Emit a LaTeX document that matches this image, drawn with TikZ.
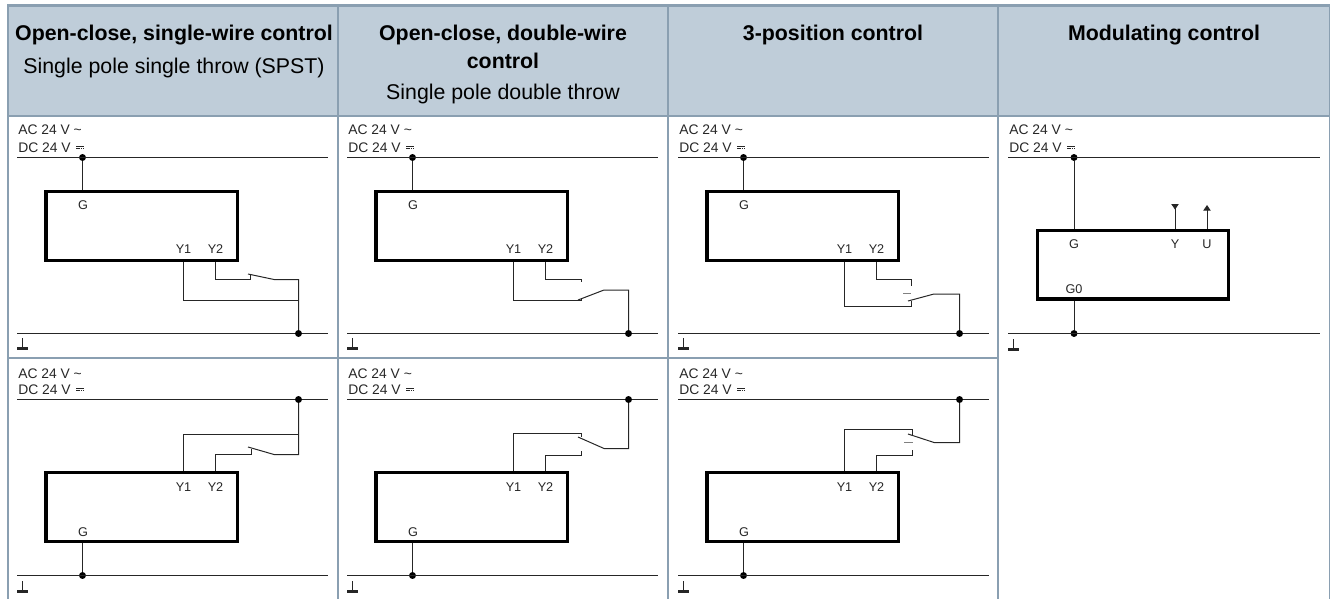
\documentclass[tikz,border=0pt]{standalone}
\usepackage{fontspec}
\setmainfont{Liberation Sans}
\usetikzlibrary{arrows.meta}

\definecolor{headfill}{HTML}{BFCDD9}
\definecolor{gridline}{HTML}{8A9FB1}
\definecolor{wirecol}{HTML}{262626}

\tikzset{
    wire/.style={line width=0.75pt,color=wirecol},
    junction/.style={circle,fill=black,inner sep=0pt,minimum size=5.2pt},
    ctrlbox/.style={draw=black,line width=2.6pt,inner sep=0pt,minimum width=143.5pt,minimum height=51.5pt},
    pin/.style={inner sep=0pt,anchor=base,font=\fontsize{9.5}{9.5}\selectfont,text=wirecol},
    volt/.style={inner sep=0pt,anchor=base west,font=\fontsize{10.4}{10.4}\selectfont,text=wirecol},
    headbold/.style={inner sep=0pt,anchor=base,font=\fontsize{16}{16}\selectfont\bfseries},
    headplain/.style={inner sep=0pt,anchor=base,font=\fontsize{16}{16}\selectfont},
    gridrule/.style={line width=1.5pt,color=gridline},
    pics/gnd/.style={code={
        \draw[line width=0.75pt,color=wirecol] (5.5,0) -- (5.5,10);
        \draw[line width=1.7pt,color=wirecol] (0,10.5) -- (11,10.5);
    }},
    pics/dcsym/.style={code={
        \draw[line width=0.5pt,color=wirecol] (0,0) -- (8,0);
        \draw[line width=0.5pt,color=wirecol,dash pattern=on 1.2pt off 0.6pt] (0,2) -- (8,2);
    }},
}

\begin{document}
\begin{tikzpicture}[x=0.75pt,y=-0.75pt]
    \useasboundingbox (0,0) rectangle (1330,599);

    % table
    \fill[headfill] (7,5) rectangle (1329,116);
    \draw[gridrule,line width=2.2pt] (7,5.5) -- (1330,5.5);
    \draw[gridrule] (7,116.5) -- (1330,116.5);
    \draw[gridrule] (7,358) -- (998,358);
    \draw[gridrule] (7.5,5) -- (7.5,599);
    \draw[gridrule] (338,5) -- (338,599);
    \draw[gridrule] (668,5) -- (668,599);
    \draw[gridrule] (998,5) -- (998,599);
    \draw[gridrule,line width=1pt] (1329.5,5) -- (1329.5,599);

    \node[headbold] (heada) at (174,40.5) {Open-close, single-wire control};
    \node[headplain] (suba) at (174,74) {Single pole single throw (SPST)};
    \node[headbold] (headb) at (503,40.5) {Open-close, double-wire};
    \node[headbold] (headb2) at (503,68.5) {control};
    \node[headplain] (subb) at (503,100) {Single pole double throw};
    \node[headbold] (headc) at (833,40.5) {3-position control};
    \node[headbold] (headd) at (1164,40.5) {Modulating control};

    % upper row: switch below the box
    \foreach \n/\dx in {a/0,b/330,c/661} {
        \begin{scope}[shift={(\dx,0)}]
            \node[volt] (ac\n) at (18,135) {AC 24 V \char`\~};
            \node[volt] (dc\n) at (18,152) {DC 24 V};
            \pic at (76,146) {dcsym};
            \coordinate (busl\n) at (17,157.5);
            \coordinate (busr\n) at (328,157.5);
            \coordinate (gndl\n) at (17,333.5);
            \coordinate (gndr\n) at (328,333.5);
            \node[junction] (dot\n) at (82.5,157.5) {};
            \node[ctrlbox] (box\n) at (141.7,226) {};
            \node[pin] (G\n) at (83,209) {G};
            \node[pin] (Yo\n) at (183.5,253) {Y1};
            \node[pin] (Yt\n) at (215.5,253) {Y2};
            \pic at (17,338) {gnd};
        \end{scope}
        \draw[wire] (busl\n) -- (busr\n);
        \draw[wire] (gndl\n) -- (gndr\n);
        \draw[wire] (dot\n) -- (box\n.north -| dot\n);
    }

    % lower row: switch above the box
    \foreach \n/\dx in {d/0,e/330,f/661} {
        \begin{scope}[shift={(\dx,0)}]
            \node[volt] (ac\n) at (18,378) {AC 24 V \char`\~};
            \node[volt] (dc\n) at (18,394) {DC 24 V};
            \pic at (76,388) {dcsym};
            \coordinate (busl\n) at (17,399.5);
            \coordinate (busr\n) at (328,399.5);
            \coordinate (gndl\n) at (17,575.5);
            \coordinate (gndr\n) at (328,575.5);
            \node[junction] (gdot\n) at (82.5,575.5) {};
            \node[ctrlbox] (box\n) at (141.7,507) {};
            \node[pin] (G\n) at (83,536) {G};
            \node[pin] (Yo\n) at (183.5,491) {Y1};
            \node[pin] (Yt\n) at (215.5,491) {Y2};
            \pic at (17,581) {gnd};
        \end{scope}
        \draw[wire] (busl\n) -- (busr\n);
        \draw[wire] (gndl\n) -- (gndr\n);
        \draw[wire] (gdot\n) -- (box\n.south -| gdot\n);
    }
    \node[junction] (dotd) at (298.5,399.5) {};
    \node[junction] (dote) at (628.5,399.5) {};
    \node[junction] (dotf) at (959.5,399.5) {};

    % upper switches
    \node[junction] (enda) at (298.5,333.5) {};
    \coordinate (a1) at (250.5,279.5);
    \coordinate (a2) at (250.5,275);
    \coordinate (a3) at (248,274);
    \coordinate (a4) at (274,279.5);
    \coordinate (a5) at (298.5,279.5);
    \coordinate (a6) at (298.5,300.5);
    \draw[wire] (Yta |- boxa.south) |- (a1) -- (a2);
    \draw[wire] (a3) -- (a4) -- (a5) -- (enda);
    \draw[wire] (Yoa |- boxa.south) |- (a6);

    \node[junction] (endb) at (628.5,333.5) {};
    \coordinate (b1) at (581.5,279.5);
    \coordinate (b2) at (581.5,282);
    \coordinate (b3) at (581.5,300.5);
    \coordinate (b4) at (581.5,298);
    \coordinate (b5) at (578,300);
    \coordinate (b6) at (604,290);
    \coordinate (b7) at (628.5,290);
    \draw[wire] (Ytb |- boxb.south) |- (b1) -- (b2);
    \draw[wire] (Yob |- boxb.south) |- (b3) -- (b4);
    \draw[wire] (b5) -- (b6) -- (b7) -- (endb);

    \node[junction] (endc) at (959.5,333.5) {};
    \coordinate (c1) at (911.5,279.5);
    \coordinate (c2) at (911.5,286);
    \coordinate (c3) at (911.5,306);
    \coordinate (c4) at (911.5,301);
    \coordinate (c5) at (908,301);
    \coordinate (c6) at (934,294);
    \coordinate (c7) at (959.5,294);
    \coordinate (c8) at (903,293);
    \coordinate (c9) at (911,293);
    \draw[wire] (Ytc |- boxc.south) |- (c1) -- (c2);
    \draw[wire] (Yoc |- boxc.south) |- (c3) -- (c4);
    \draw[wire] (c5) -- (c6) -- (c7) -- (endc);
    \draw[wire,color=gray] (c8) -- (c9);

    % lower switches
    \coordinate (d1) at (251.5,454.5);
    \coordinate (d2) at (251.5,448.5);
    \coordinate (d3) at (248,447);
    \coordinate (d4) at (274,454.5);
    \coordinate (d5) at (298.5,454.5);
    \coordinate (d6) at (298.5,434.5);
    \draw[wire] (Ytd |- boxd.north) |- (d1) -- (d2);
    \draw[wire] (d3) -- (d4) -- (d5) -- (dotd);
    \draw[wire] (Yod |- boxd.north) |- (d6);

    \coordinate (e1) at (581.5,433.5);
    \coordinate (e2) at (581.5,436.5);
    \coordinate (e3) at (581.5,455.5);
    \coordinate (e4) at (581.5,451);
    \coordinate (e5) at (578,437);
    \coordinate (e6) at (604,448.5);
    \coordinate (e7) at (628.5,448.5);
    \draw[wire] (Yoe |- boxe.north) |- (e1) -- (e2);
    \draw[wire] (Yte |- boxe.north) |- (e3) -- (e4);
    \draw[wire] (e5) -- (e6) -- (e7) -- (dote);

    \coordinate (f1) at (912.5,429.5);
    \coordinate (f2) at (912.5,435);
    \coordinate (f3) at (912.5,455.5);
    \coordinate (f4) at (912.5,450);
    \coordinate (f5) at (908,434);
    \coordinate (f6) at (934,442.5);
    \coordinate (f7) at (959.5,442.5);
    \coordinate (f8) at (904,442.5);
    \coordinate (f9) at (913,442.5);
    \draw[wire] (Yof |- boxf.north) |- (f1) -- (f2);
    \draw[wire] (Ytf |- boxf.north) |- (f3) -- (f4);
    \draw[wire] (f5) -- (f6) -- (f7) -- (dotf);
    \draw[wire,color=gray] (f8) -- (f9);

    % modulating control
    \node[volt] (acg) at (1009,135) {AC 24 V \char`\~};
    \node[volt] (dcg) at (1009,152) {DC 24 V};
    \pic at (1067,146) {dcsym};
    \coordinate (buslg) at (1008,157.5);
    \coordinate (busrg) at (1320,157.5);
    \coordinate (gndlg) at (1008,333.5);
    \coordinate (gndrg) at (1320,333.5);
    \node[junction] (dotg) at (1074,157.5) {};
    \node[junction] (gdotg) at (1074,333.5) {};
    \node[ctrlbox] (boxg) at (1133,264.7) {};
    \node[pin] (Gg) at (1074,248) {G};
    \node[pin] (Gog) at (1074,293) {G0};
    \node[pin] (Yg) at (1175,248) {Y};
    \node[pin] (Ug) at (1207,248) {U};
    \coordinate (ytip) at (1175,204);
    \coordinate (utip) at (1207,205);
    \pic at (1008,339) {gnd};
    \draw[wire] (buslg) -- (busrg);
    \draw[wire] (gndlg) -- (gndrg);
    \draw[wire] (dotg) -- (boxg.north -| dotg);
    \draw[wire] (gdotg) -- (boxg.south -| gdotg);
    \draw[wire,{Triangle[reversed,width=5.5pt,length=4.2pt]}-] (ytip) -- (Yg |- boxg.north);
    \draw[wire,-{Triangle[width=5.5pt,length=4.2pt]}] (Ug |- boxg.north) -- (utip);
\end{tikzpicture}
\end{document}
